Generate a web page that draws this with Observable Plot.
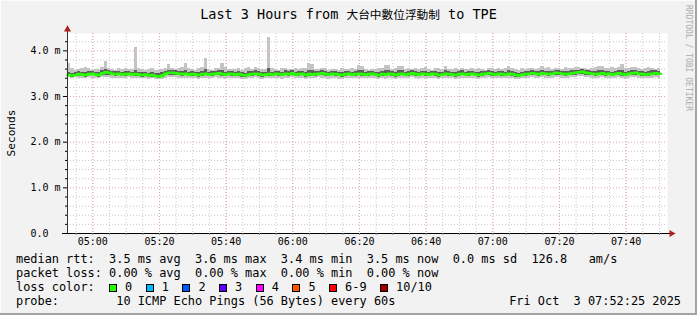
<!DOCTYPE html>
<html><head><meta charset="utf-8">
<script src="https://cdn.jsdelivr.net/npm/d3@7"></script>
<script src="https://cdn.jsdelivr.net/npm/@observablehq/plot@0.6"></script>
<style>
html,body{margin:0;padding:0;background:#fff}
#chart{position:relative;width:697px;height:315px;background:#f2f2f2;overflow:hidden;
  box-shadow: inset -2px -2px 0 #a3a3a3, inset 1px 1px 0 #fcfcfc;
  font-family:"DejaVu Sans Mono",monospace;color:#000}
#chart svg{position:absolute;left:0;top:0}
.t{position:absolute;white-space:pre;line-height:14px;font-size:11.9px;font-family:"DejaVu Sans Mono",monospace}
#title{position:absolute;left:0;top:5px;width:697px;text-align:center;font-size:13.5px;line-height:18px;white-space:pre}
#title .cjk{font-family:"Noto Sans CJK TC",sans-serif;font-size:11.7px}
#ylab{position:absolute;left:11px;top:133px;transform:translate(-50%,-50%) rotate(-90deg);font-size:11.2px;white-space:pre}
#credit{position:absolute;left:684px;top:5px;writing-mode:vertical-rl;font-size:8px;line-height:9px;color:#ababab;white-space:pre}
.sw{display:inline-block;width:8px;height:8px;box-sizing:border-box;border:1px solid #000;vertical-align:-1px;margin-right:8px}
.li{display:inline-block;margin-right:13.5px}
</style></head>
<body>
<div id="chart">
  <div id="title"></div>
  <div id="ylab">Seconds</div>
  <div id="credit">RRDTOOL / TOBI OETIKER</div>
</div>
<script>
// ---------- data ----------
const titleParts = ["Last 3 Hours from ", "大台中數位浮動制", " to TPE"];
const yAxisLabel = "Seconds";
const yTickValues = [0, 1, 2, 3, 4];
const yTickLabels = ["0.0", "1.0 m", "2.0 m", "3.0 m", "4.0 m"];
const xTickLabels = ["05:00", "05:20", "05:40", "06:00", "06:20", "06:40", "07:00", "07:20", "07:40"];

// median rtt per minute (ms)
const med = [
 3.47,3.46,3.47,3.49,3.48,3.47,3.49,3.50,3.48,3.47,
 3.51,3.53,3.52,3.50,3.49,3.50,3.48,3.49,3.50,3.48,
 3.49,3.48,3.47,3.48,3.46,3.47,3.45,3.44,3.46,3.50,
 3.52,3.52,3.51,3.50,3.49,3.50,3.48,3.49,3.48,3.47,
 3.49,3.50,3.48,3.49,3.50,3.51,3.49,3.48,3.50,3.49,
 3.48,3.49,3.47,3.46,3.48,3.49,3.50,3.49,3.47,3.48,
 3.49,3.48,3.50,3.49,3.48,3.50,3.49,3.51,3.48,3.49,
 3.50,3.47,3.49,3.48,3.49,3.50,3.51,3.49,3.48,3.50,
 3.49,3.48,3.47,3.49,3.50,3.48,3.49,3.50,3.49,3.48,
 3.49,3.50,3.48,3.47,3.49,3.48,3.50,3.49,3.47,3.49,
 3.50,3.48,3.49,3.51,3.49,3.48,3.50,3.49,3.48,3.50,
 3.49,3.47,3.48,3.50,3.49,3.48,3.47,3.49,3.50,3.48,
 3.49,3.50,3.48,3.47,3.49,3.50,3.51,3.49,3.48,3.50,
 3.49,3.48,3.50,3.49,3.47,3.46,3.48,3.49,3.50,3.51,
 3.50,3.49,3.51,3.50,3.49,3.50,3.52,3.51,3.50,3.49,
 3.50,3.51,3.52,3.53,3.54,3.52,3.51,3.50,3.49,3.50,
 3.51,3.49,3.50,3.48,3.50,3.51,3.49,3.48,3.50,3.51,
 3.52,3.50,3.49,3.48,3.49,3.50,3.51,3.50];
// upper smoke edge (max of 10 pings)
const mx = [
 3.73,3.62,3.58,3.60,3.61,3.64,3.62,3.58,3.60,3.59,
 3.63,3.77,3.62,3.60,3.58,3.61,3.60,3.62,3.59,3.60,
 4.08,3.62,3.60,3.58,3.59,3.61,3.58,3.57,3.60,3.62,
 3.70,3.62,3.60,3.61,3.63,3.73,3.62,3.60,3.58,3.61,
 3.63,3.84,3.60,3.58,3.61,3.62,3.73,3.63,3.60,3.59,
 3.60,3.62,3.58,3.61,3.63,3.60,3.64,3.61,3.60,3.59,
 4.29,3.62,3.60,3.58,3.61,3.62,3.60,3.59,3.61,3.60,
 3.61,3.62,3.72,3.71,3.60,3.59,3.61,3.62,3.58,3.60,
 3.60,3.58,3.61,3.60,3.59,3.61,3.60,3.67,3.66,3.60,
 3.58,3.60,3.59,3.62,3.61,3.69,3.68,3.60,3.62,3.66,
 3.65,3.60,3.61,3.59,3.62,3.60,3.61,3.63,3.60,3.58,
 3.61,3.62,3.60,3.66,3.60,3.59,3.61,3.60,3.62,3.59,
 3.60,3.61,3.59,3.62,3.60,3.58,3.61,3.62,3.60,3.61,
 3.59,3.62,3.66,3.61,3.60,3.58,3.61,3.60,3.62,3.61,
 3.60,3.62,3.66,3.61,3.63,3.60,3.62,3.61,3.60,3.63,
 3.61,3.62,3.64,3.63,3.62,3.61,3.60,3.62,3.63,3.66,
 3.65,3.62,3.61,3.63,3.62,3.64,3.70,3.62,3.61,3.63,
 3.64,3.62,3.60,3.61,3.63,3.62,3.60,3.61];
// inner smoke upper edge
const hi = [
 3.53,3.51,3.52,3.55,3.53,3.52,3.54,3.55,3.53,3.52,
 3.56,3.60,3.57,3.55,3.54,3.55,3.53,3.54,3.55,3.53,
 3.58,3.53,3.52,3.53,3.51,3.52,3.50,3.50,3.52,3.55,
 3.58,3.57,3.56,3.55,3.55,3.58,3.53,3.54,3.53,3.52,
 3.55,3.60,3.53,3.54,3.55,3.56,3.58,3.53,3.55,3.54,
 3.53,3.55,3.52,3.51,3.54,3.54,3.56,3.54,3.52,3.53,
 3.62,3.53,3.55,3.54,3.53,3.56,3.54,3.56,3.53,3.54,
 3.55,3.52,3.57,3.58,3.54,3.55,3.56,3.54,3.53,3.55,
 3.54,3.53,3.52,3.54,3.55,3.53,3.54,3.57,3.56,3.53,
 3.54,3.55,3.53,3.52,3.54,3.57,3.56,3.54,3.52,3.56,
 3.56,3.53,3.54,3.56,3.54,3.53,3.55,3.55,3.53,3.55,
 3.54,3.52,3.53,3.57,3.54,3.53,3.52,3.54,3.56,3.53,
 3.54,3.55,3.53,3.52,3.54,3.55,3.56,3.54,3.53,3.55,
 3.54,3.53,3.57,3.54,3.52,3.51,3.53,3.54,3.55,3.56,
 3.55,3.54,3.58,3.55,3.55,3.55,3.57,3.56,3.55,3.55,
 3.55,3.56,3.58,3.58,3.59,3.57,3.56,3.55,3.55,3.57,
 3.57,3.54,3.55,3.53,3.55,3.57,3.58,3.53,3.55,3.56,
 3.58,3.55,3.54,3.53,3.54,3.56,3.56,3.55];
// inner smoke lower edge
const lo = [
 3.43,3.42,3.44,3.44,3.43,3.42,3.45,3.45,3.44,3.42,
 3.46,3.47,3.47,3.45,3.44,3.45,3.43,3.44,3.45,3.43,
 3.44,3.43,3.42,3.43,3.41,3.42,3.41,3.40,3.41,3.45,
 3.47,3.47,3.46,3.45,3.44,3.45,3.43,3.44,3.43,3.42,
 3.44,3.45,3.43,3.44,3.45,3.46,3.44,3.43,3.45,3.44,
 3.43,3.44,3.42,3.41,3.43,3.44,3.45,3.44,3.42,3.43,
 3.44,3.43,3.45,3.44,3.43,3.45,3.44,3.46,3.43,3.44,
 3.45,3.42,3.44,3.43,3.44,3.45,3.46,3.44,3.43,3.45,
 3.44,3.43,3.42,3.44,3.45,3.43,3.44,3.45,3.44,3.43,
 3.44,3.45,3.43,3.42,3.44,3.43,3.45,3.44,3.42,3.44,
 3.45,3.43,3.44,3.46,3.44,3.43,3.45,3.44,3.43,3.45,
 3.44,3.42,3.43,3.45,3.44,3.43,3.42,3.44,3.45,3.43,
 3.44,3.45,3.43,3.42,3.44,3.45,3.46,3.44,3.43,3.45,
 3.44,3.43,3.45,3.44,3.42,3.41,3.43,3.44,3.45,3.46,
 3.45,3.44,3.46,3.45,3.44,3.45,3.47,3.46,3.45,3.44,
 3.45,3.46,3.47,3.48,3.49,3.47,3.46,3.45,3.44,3.45,
 3.46,3.44,3.45,3.43,3.45,3.46,3.44,3.43,3.45,3.46,
 3.47,3.45,3.44,3.43,3.44,3.45,3.46,3.45];
// lower smoke edge (min of 10 pings)
const mn = [
 3.41,3.40,3.41,3.40,3.39,3.40,3.41,3.40,3.39,3.40,
 3.41,3.42,3.41,3.40,3.39,3.40,3.40,3.39,3.41,3.40,
 3.40,3.39,3.39,3.40,3.38,3.39,3.38,3.37,3.38,3.40,
 3.42,3.41,3.41,3.40,3.39,3.40,3.39,3.40,3.39,3.38,
 3.39,3.40,3.39,3.40,3.41,3.40,3.39,3.38,3.40,3.39,
 3.39,3.40,3.38,3.37,3.39,3.40,3.41,3.40,3.38,3.39,
 3.40,3.39,3.40,3.39,3.38,3.40,3.39,3.41,3.39,3.40,
 3.40,3.38,3.39,3.39,3.40,3.41,3.40,3.39,3.38,3.40,
 3.39,3.38,3.37,3.39,3.40,3.39,3.39,3.40,3.40,3.39,
 3.39,3.40,3.39,3.38,3.39,3.38,3.40,3.40,3.38,3.39,
 3.40,3.39,3.39,3.41,3.40,3.38,3.40,3.39,3.39,3.40,
 3.39,3.38,3.39,3.40,3.40,3.39,3.38,3.39,3.40,3.39,
 3.40,3.40,3.39,3.38,3.39,3.40,3.41,3.40,3.39,3.40,
 3.39,3.39,3.40,3.39,3.38,3.37,3.39,3.40,3.40,3.41,
 3.40,3.39,3.41,3.40,3.40,3.40,3.42,3.41,3.40,3.39,
 3.40,3.41,3.42,3.43,3.44,3.42,3.41,3.40,3.40,3.40,
 3.41,3.39,3.40,3.39,3.40,3.41,3.39,3.38,3.40,3.41,
 3.42,3.40,3.39,3.39,3.40,3.40,3.41,3.40];

const rttStats = [["3.5", "ms avg"], ["3.6", "ms max"], ["3.4", "ms min"], ["3.5", "ms now"], ["0.0", "ms sd"]];
const rttExtra = ["126.8", "am/s"];
const lossStats = [["0.00", "% avg"], ["0.00", "% max"], ["0.00", "% min"], ["0.00", "% now"]];
const lossLabels = ["0", "1", "2", "3", "4", "5", "6-9", "10/10"];
const lossColors = ["#26ff00", "#00b8ff", "#0059ff", "#5e00ff", "#ff00ff", "#ff5500", "#ff0000", "#a10000"];
const probeText = "10 ICMP Echo Pings (56 Bytes) every 60s";
const stampText = "Fri Oct  3 07:52:25 2025";

// ---------- build ----------
const MIN = 60000;
const start = Date.UTC(2025, 9, 3, 4, 52, 25);
const end = start + 180 * MIN;
const samples = med.map((v, i) => ({
  t0: new Date(start + i * MIN), t1: new Date(start + (i + 1) * MIN),
  med: v, mx: mx[i], hi: hi[i], lo: lo[i], mn: mn[i]
}));
const medPts = samples.map(s => ({t: s.t0, v: s.med}));
medPts.push({t: samples[samples.length - 1].t1, v: med[med.length - 1]});

const xTicks = xTickLabels.map(s => { const [h, m] = s.split(":").map(Number); return new Date(Date.UTC(2025, 9, 3, h, m)); });
const minorX = d3.utcMinute.every(5).range(new Date(start), new Date(end));
const minorY = d3.range(1, 22).map(k => +(k * 0.2).toFixed(1)).filter(v => Math.abs(v - Math.round(v)) > 1e-6);
const majorY = yTickValues.filter(v => v > 0);
const fmtY = d => yTickLabels[yTickValues.indexOf(d)];
const fmtX = d => xTickLabels[xTicks.findIndex(t => +t === +d)];

const chart = Plot.plot({
  width: 697, height: 252,
  marginLeft: 67, marginRight: 30, marginTop: 33, marginBottom: 19,
  x: {type: "utc", domain: [new Date(start), new Date(end)]},
  y: {domain: [0, 4.38]},
  style: {background: "transparent", fontFamily: "DejaVu Sans Mono, monospace", fontSize: "10px", overflow: "visible", color: "#000"},
  marks: [
    Plot.frame({fill: "white", stroke: "none"}),
    Plot.gridX(minorX, {stroke: "#c8c8c8", strokeOpacity: 1, strokeDasharray: "1,2"}),
    Plot.gridY(minorY, {stroke: "#c8c8c8", strokeOpacity: 1, strokeDasharray: "1,2"}),
    Plot.gridX(xTicks, {stroke: "#e6a4a4", strokeOpacity: 1, strokeDasharray: "1,2"}),
    Plot.gridY(majorY, {stroke: "#e6a4a4", strokeOpacity: 1, strokeDasharray: "1,2"}),
    Plot.rect(samples, {x1: "t0", x2: "t1", y1: "mn", y2: "mx", fill: "#c4c4c4", shapeRendering: "crispEdges"}),
    Plot.rect(samples, {x1: "t0", x2: "t1", y1: "lo", y2: "hi", fill: "#5e5e5e", shapeRendering: "crispEdges"}),
    Plot.line(medPts, {x: "t", y: "v", curve: "step-after", stroke: "#26ff00", strokeWidth: 2.6}),
    // axis lines
    Plot.ruleX([0], {x: () => new Date(start), y1: () => 0, y2: () => 4.47, stroke: "#333"}),
    Plot.ruleY([0], {y: () => 0, x1: () => new Date(start - 1.5 * MIN), x2: () => new Date(end + 1.0 * MIN), stroke: "#000"}),
    Plot.dot([0], {x: () => new Date(start), y: () => 4.47, symbol: "triangle", r: 2.6, fill: "#b02020", stroke: "none"}),
    Plot.dot([0], {x: () => new Date(end + 1.2 * MIN), y: () => 0, symbol: "triangle", r: 2.6, fill: "#b02020", stroke: "none", rotate: 90}),
    // ticks
    Plot.axisY(yTickValues, {tickSize: 4, fill: "none", stroke: "#000"}),
    Plot.axisY(minorY, {tickSize: 2, fill: "none", stroke: "#000"}),
    Plot.axisX(minorX, {tickSize: 2, fill: "none", stroke: "#888"}),
    // tick labels
    Plot.axisY(yTickValues, {tickSize: 0, tickPadding: 0, textAnchor: "start", dx: -37, tickFormat: fmtY, label: null}),
    Plot.axisX(xTicks, {tickSize: 0, tickPadding: 4, tickFormat: fmtX, label: null})
  ]
});
const root = document.getElementById("chart");
root.insertBefore(chart, root.firstChild);

// title
const title = document.getElementById("title");
title.append(titleParts[0]);
const cjk = document.createElement("span"); cjk.className = "cjk"; cjk.textContent = titleParts[1];
title.append(cjk, titleParts[2]);
document.getElementById("ylab").textContent = yAxisLabel;

// legend
function line(top, text) {
  const d = document.createElement("div");
  d.className = "t"; d.style.left = "16px"; d.style.top = top + "px";
  d.textContent = text; root.appendChild(d); return d;
}
line(252.3, "median rtt:  " + rttStats.map(s => s.join(" ")).join("  ") + "  " + rttExtra.join("   "));
line(266.3, "packet loss: " + lossStats.map(s => s.join(" ")).join("  "));
const l3 = line(280.3, "loss color:  ");
lossLabels.forEach((lab, i) => {
  const item = document.createElement("span"); item.className = "li";
  const sw = document.createElement("span"); sw.className = "sw"; sw.style.background = lossColors[i];
  item.append(sw, lab); l3.appendChild(item);
});
line(293.7, "probe:        " + probeText);
const st = document.createElement("div");
st.className = "t"; st.style.right = "16px"; st.style.top = "293.7px"; st.textContent = stampText;
root.appendChild(st);
</script>
</body></html>
